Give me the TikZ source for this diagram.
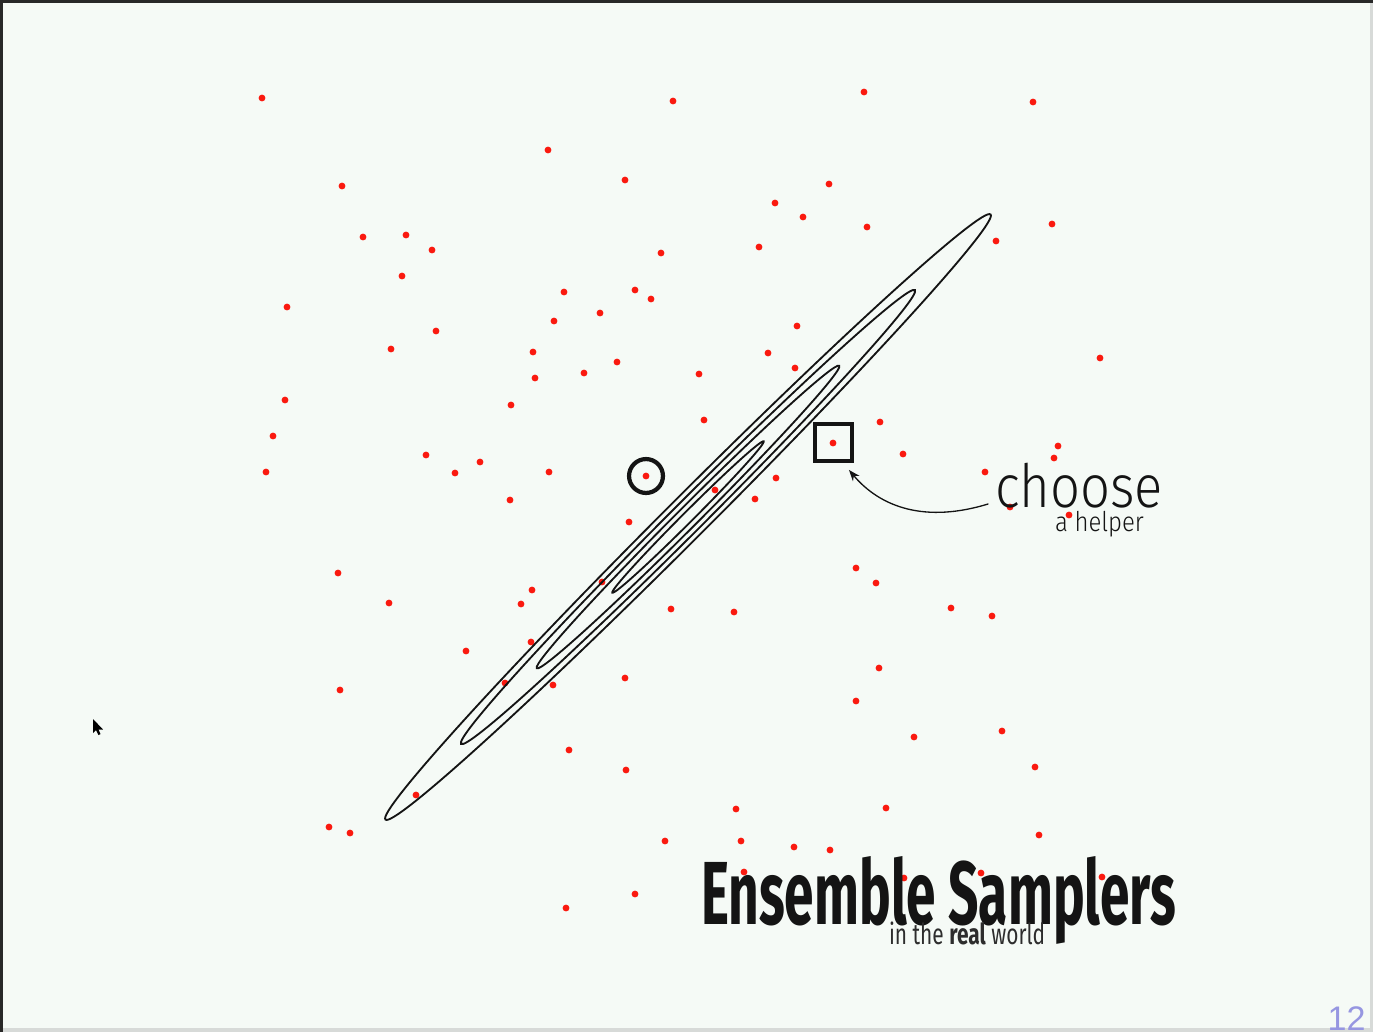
\documentclass[tikz,border=0pt]{standalone}
\usepackage{fontspec}
\usetikzlibrary{arrows.meta}
\setmainfont{Fira Sans}
\newfontfamily\thinfont[FakeStretch=0.88]{Fira Sans Light}
\newfontfamily\titlefont[FakeStretch=0.594]{Fira Sans}
\newfontfamily\subfont[FakeStretch=0.72]{Fira Sans}
\newfontfamily\pagefont{Liberation Sans}
\definecolor{paperc}{RGB}{245,250,246}
\definecolor{dotc}{RGB}{250,25,15}
\definecolor{inkc}{RGB}{20,20,20}
\definecolor{subc}{RGB}{45,45,45}
\definecolor{pagec}{RGB}{150,150,225}
\definecolor{framec}{RGB}{40,40,40}
\definecolor{edgec}{RGB}{215,218,216}

\begin{document}
\begin{tikzpicture}[x=0.02cm, y=-0.02cm, >=Stealth, line cap=round,
  contour/.style={inkc, line width=1.05pt},
  marker/.style={draw=inkc, line width=2.4pt, inner sep=0pt, outer sep=0pt},
  txt/.style={inner sep=0pt, outer sep=0pt, anchor=base west, text=inkc}]
  \useasboundingbox (0,0) rectangle (1373,1032);

  % slide background and frame
  \fill[paperc] (0,0) rectangle (1373,1032);
  \fill[edgec] (1370,0) rectangle (1373,1032);
  \fill[edgec] (0,1028) rectangle (1373,1032);
  \fill[framec] (0,0) rectangle (1373,3);
  \fill[framec] (0,0) rectangle (3,1032);

  % ensemble of walkers
  \foreach \x/\y in {262/98, 673/101, 864/92, 1033/102, 548/150, 342/186, 625/180, 829/184,
      775/203, 803/217, 867/227, 1052/224, 996/241, 363/237, 406/235, 432/250,
      402/276, 661/253, 759/247, 564/292, 635/290, 651/299, 287/307, 554/321,
      600/313, 436/331, 797/326, 391/349, 533/352, 768/353, 617/362, 795/368,
      1100/358, 584/373, 535/378, 699/374, 285/400, 511/405, 704/420, 880/422,
      273/436, 833/443, 1058/446, 1054/458, 903/454, 426/455, 480/462, 455/473,
      549/472, 266/472, 985/472, 646/476, 776/478, 715/490, 755/499, 510/500,
      1010/507, 1069/515, 629/522, 856/568, 876/583, 338/573, 602/582, 532/590,
      521/604, 389/603, 951/608, 992/616, 671/609, 734/612, 531/642, 466/651,
      879/668, 340/690, 505/683, 553/685, 625/678, 856/701, 914/737, 1002/731,
      569/750, 626/770, 1035/767, 416/795, 736/809, 886/808, 329/827, 350/833,
      1039/835, 665/841, 741/841, 794/847, 830/850, 566/908, 635/894, 744/872,
      904/878, 981/873, 1102/877}{
    \fill[dotc] (\x,\y) circle (1.95pt);
  }

  % narrow gaussian contours
  \begin{scope}[shift={(688,517)}, rotate=45]
    \foreach \k in {1,...,4}{
      \draw[contour] (0,0) ellipse [x radius={\k*2.14cm}, y radius={\k*0.104cm}];
    }
  \end{scope}

  % current walker and its helper
  \node[marker, circle, minimum size=19.3pt] (walker) at (646,476) {};
  \node[marker, rectangle, minimum size=21pt] (helper) at (833.5,442.5) {};

  % labels
  \node[txt, font=\thinfont\fontsize{34}{34}\selectfont] (choose) at (995,507) {choose};
  \node[txt, font=\thinfont\fontsize{15.5}{15.5}\selectfont] (ahelper) at (1055,531) {a helper};
  \draw[->, inkc, line width=0.75pt]
    ([shift={(-7,-3)}]choose.base west) .. controls +(-62,19) and +(32,38) .. ([shift={(-3,9)}]helper.south east);

  \node[txt, font=\titlefont\bfseries\fontsize{51}{51}\selectfont] (title) at (701,924) {Ensemble Samplers};
  \node[txt, text=subc, font=\subfont\fontsize{16.5}{16.5}\selectfont] (subtitle) at (889,944) {in the \textbf{real} world};
  \node[inner sep=0pt, anchor=base east, text=pagec, font=\pagefont\fontsize{19.4}{19.4}\selectfont] (page) at (1366,1030) {12};

  % mouse pointer
  \fill[black] (93,719) -- (93,733) -- (96,730) -- (98.5,735) -- (100.5,734) -- (98.5,729.5) -- (103,729.5) -- cycle;
\end{tikzpicture}
\end{document}
